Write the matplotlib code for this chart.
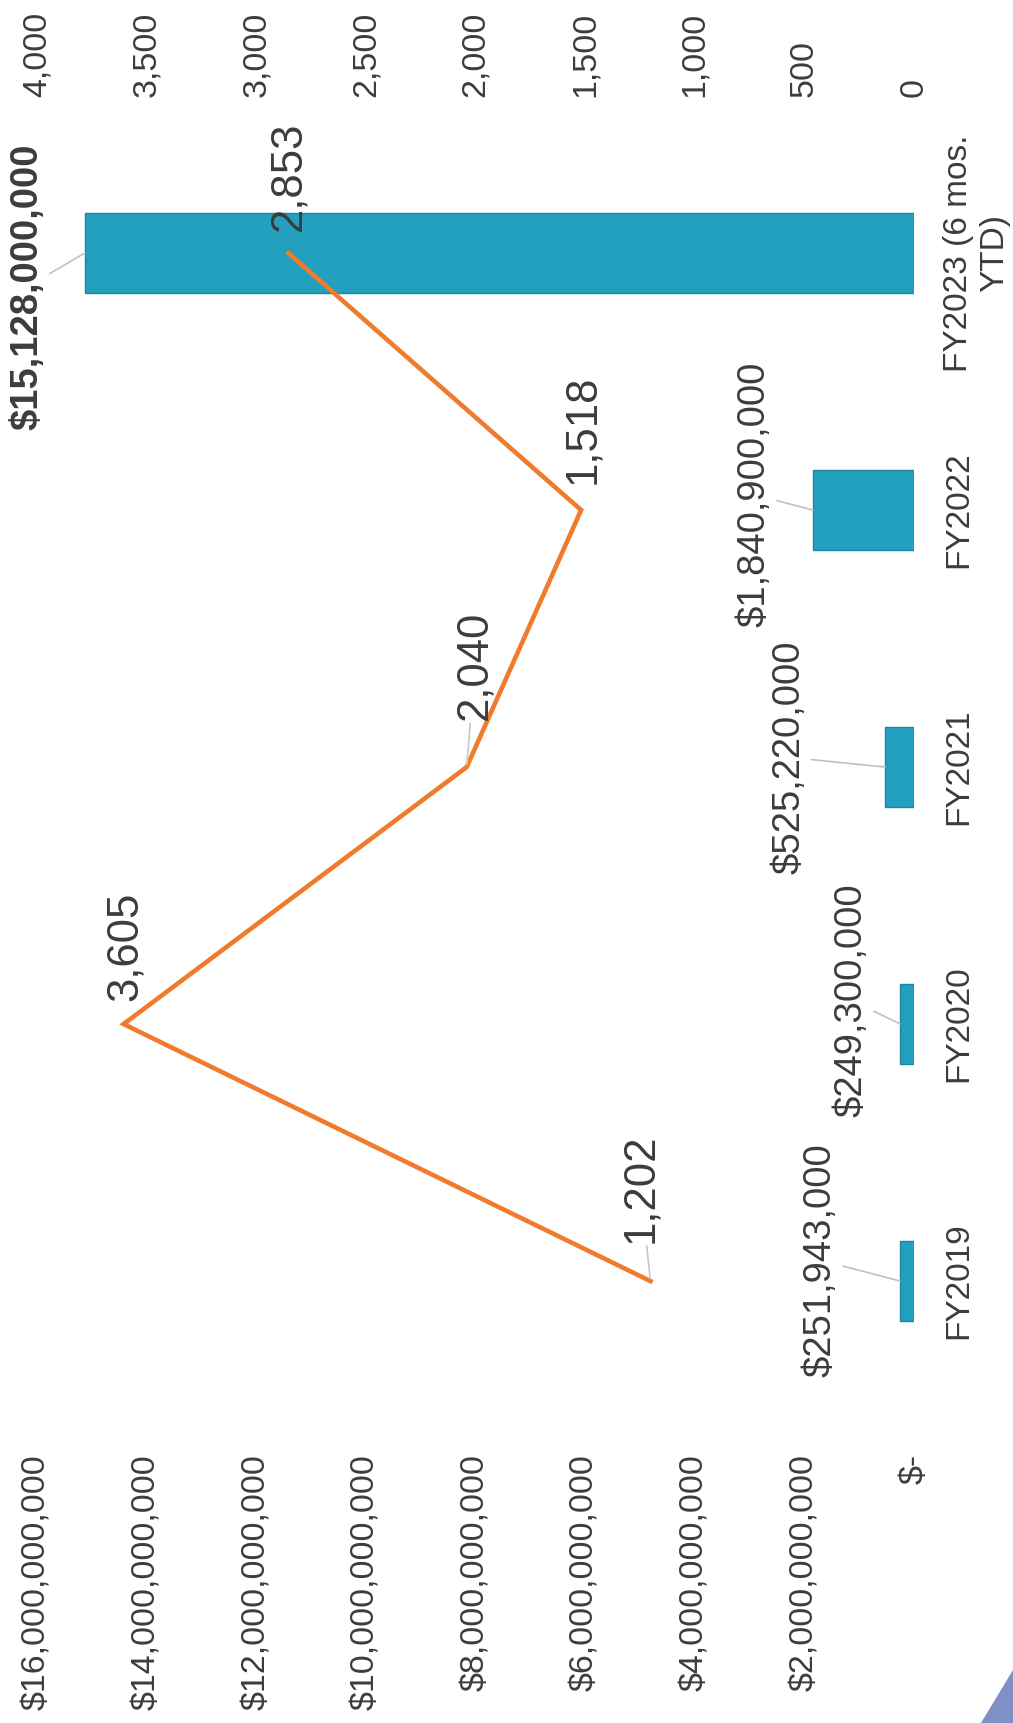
import matplotlib
matplotlib.use("Agg")
import matplotlib.pyplot as plt
from matplotlib.patches import Polygon

plt.rcParams['font.family'] = ['Liberation Sans', 'DejaVu Sans']

# data
years = ["FY2019", "FY2020", "FY2021", "FY2022", "FY2023 (6 mos.\nYTD)"]
dollars = [251943000, 249300000, 525220000, 1840900000, 15128000000]
counts = [1202, 3605, 2040, 1518, 2853]
dollar_ticks = [0, 2e9, 4e9, 6e9, 8e9, 10e9, 12e9, 14e9, 16e9]
count_ticks = [0, 500, 1000, 1500, 2000, 2500, 3000, 3500, 4000]

# label offsets (points)
bar_lab_off = [(-57, 15), (-35, 17), (-69, 7), (-42, 11), (-41, -24)]
line_lab_off = [(-7, 67), (1, 56), (6, 73), (1, 58), (0, 55)]
line_leader = [True, False, True, False, False]

TXT = '#3c3c3c'
BAR = '#22A0BE'
LINE = '#F07B2C'


def money(v):
    return "$-" if v == 0 else f"${v:,.0f}"


fig = plt.figure(figsize=(10.13, 17.23), dpi=100)
ax = fig.add_axes([0.0365, 0.1819, 0.8657, 0.7458])
pos = list(range(len(years)))

# columns, chart is turned on its side so they run right -> left
ax.barh(pos, dollars, height=0.31, color=BAR, edgecolor='#1b86a3', lw=1)
ax.set_xlim(16e9, 0)
ax.set_ylim(-0.5, len(years) - 0.5)
ax.set_xticks(dollar_ticks, [money(v) for v in dollar_ticks])
ax.tick_params(axis='x', length=0, pad=32, labelsize=24.5, labelrotation=90, labelcolor=TXT)
ax.yaxis.tick_right()
ax.set_yticks(pos)
ax.set_yticklabels(years, rotation=90, va='center', ha='left', ma='center',
                   fontsize=24, color=TXT)
ax.tick_params(axis='y', length=0, pad=21)

for i, v in enumerate(dollars):
    ax.annotate(money(v), xy=(v, pos[i]), xytext=bar_lab_off[i], textcoords='offset points',
                rotation=90, ha='center', va='center', fontsize=27.5, color=TXT,
                fontweight='bold' if i == len(dollars) - 1 else 'normal',
                arrowprops=dict(arrowstyle='-', color='#c0c0c0', lw=1.2, shrinkA=1, shrinkB=0))

# secondary axis for the count line
ax2 = ax.twiny()
ax2.plot(counts, pos, color=LINE, lw=3.3, solid_joinstyle='miter')
ax2.set_xlim(4000, 0)
ax2.set_xticks(count_ticks, [f"{v:,}" for v in count_ticks])
ax2.tick_params(axis='x', length=0, pad=20, labelsize=24.5, labelrotation=90, labelcolor=TXT)

for i, c in enumerate(counts):
    props = None
    if line_leader[i]:
        props = dict(arrowstyle='-', color='#c8c8c8', lw=1.2, shrinkA=0, shrinkB=2)
    ax2.annotate(f"{c:,}", xy=(c, pos[i]), xytext=line_lab_off[i], textcoords='offset points',
                 rotation=90, ha='center', va='center', fontsize=31.5, color=TXT,
                 arrowprops=props)

for a in (ax, ax2):
    for s in a.spines.values():
        s.set_visible(False)

# scanner artifact in the lower right corner
fig.patches.append(Polygon([[0.968, 0.0], [1.0, 0.0], [1.0, 0.031]], closed=True,
                           transform=fig.transFigure, color='#7f90c6', zorder=0))

fig.savefig("out.png", dpi=100)
